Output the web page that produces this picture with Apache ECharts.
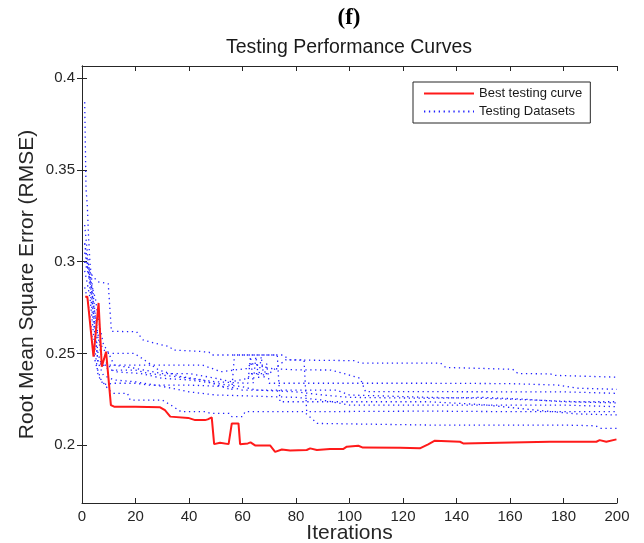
<!DOCTYPE html>
<html>
<head>
<meta charset="utf-8">
<script src="https://cdn.jsdelivr.net/npm/echarts@6/dist/echarts.min.js"></script>
<style>
html,body{margin:0;padding:0;background:#fff;}
#chart{width:644px;height:543px;}
</style>
</head>
<body>
<div id="chart"></div>
<script>
// ---- data (iteration, RMSE) ----
const xTicks = [0, 20, 40, 60, 80, 100, 120, 140, 160, 180, 200];
const yTicks = [0.2, 0.25, 0.3, 0.35, 0.4];

const bestCurve = [[1.2,0.2809],[2,0.2809],[4.3,0.2482],[6.2,0.2775],[7.4,0.2427],[9,0.2509],[9.6,0.2509],[10.8,0.2218],[12,0.2209],[20,0.2209],[29.2,0.2206],[31,0.219],[33,0.2155],[39.7,0.2148],[42.3,0.2136],[46,0.2136],[47,0.214],[48.5,0.2151],[49.4,0.2005],[51.6,0.2013],[54.8,0.2005],[55.5,0.2005],[56,0.2118],[58.5,0.2118],[59.1,0.2005],[62,0.2009],[63,0.2015],[64.7,0.1998],[70.3,0.1998],[72.2,0.1963],[74.7,0.1976],[77.8,0.197],[84,0.1973],[85.3,0.1982],[87.8,0.1973],[92.7,0.1978],[97.6,0.1978],[99,0.1991],[103.3,0.1996],[105,0.1986],[118.9,0.1985],[126.3,0.1982],[129.4,0.2004],[131.9,0.2024],[141.3,0.2018],[142.5,0.2009],[156,0.2013],[174.9,0.2018],[192.3,0.2018],[193.5,0.2027],[196,0.2018],[199.8,0.2031],[200,0.2031]];

const testCurve1 = [[1,0.300],[2,0.297],[4,0.292],[6,0.289],[9.8,0.288],[11,0.262],[20.4,0.2618],[22.8,0.2573],[27.3,0.2555],[32.8,0.2536],[34,0.2518],[43,0.2512],[47.5,0.2506],[48.5,0.2491],[75,0.2491],[77.8,0.2464],[102,0.246],[104,0.2447],[134,0.2447],[136,0.2423],[149,0.2418],[161,0.2413],[163,0.239],[175,0.2388],[177,0.238],[200,0.237]];
const testCurve2 = [[1,0.387],[1.5,0.34],[2,0.33],[2.5,0.312],[3,0.299],[4,0.285],[5,0.27],[6,0.258],[8,0.252],[10,0.250],[19.5,0.250],[22.4,0.2473],[28.7,0.2409],[37,0.2373],[45,0.2355],[56,0.2300],[57,0.2491],[73,0.2491],[74,0.2236],[100,0.2236],[130,0.2236],[150,0.222],[170,0.219],[185,0.217],[200,0.2164]];
const testCurve3 = [[1,0.32],[2,0.305],[3,0.29],[4,0.275],[5,0.262],[6,0.25],[7,0.245],[10,0.2409],[20,0.2409],[25,0.239],[35,0.2373],[40,0.2364],[50,0.2345],[62,0.2337],[63,0.2482],[64,0.2337],[65,0.2482],[66,0.2364],[67,0.2482],[68,0.2364],[69,0.2446],[70,0.2337],[90,0.2337],[130,0.2337],[160,0.2335],[178,0.2327],[185,0.231],[200,0.2304]];
const testCurve4 = [[1,0.31],[2,0.30],[3,0.295],[4,0.28],[5,0.26],[6,0.245],[8,0.2436],[30,0.2436],[45,0.2436],[52,0.240],[62,0.2418],[63,0.2446],[70,0.2418],[80,0.241],[93,0.2409],[98,0.239],[104,0.2364],[106,0.2291],[130,0.2291],[180,0.229],[200,0.2282]];
const testCurve5 = [[1,0.295],[2,0.288],[3,0.28],[4,0.265],[5,0.25],[6,0.238],[8,0.233],[12,0.2337],[20,0.2337],[25,0.2327],[40,0.2327],[55,0.2318],[60,0.230],[95,0.2300],[100,0.2273],[130,0.226],[150,0.2255],[170,0.2245],[185,0.2236],[200,0.2236]];
const testCurve6 = [[1,0.30],[2,0.295],[3,0.29],[5,0.28],[6,0.27],[7,0.262],[8,0.255],[10,0.25],[12,0.2436],[20,0.2418],[30,0.239],[40,0.2390],[50,0.2364],[56,0.2345],[62,0.2364],[63,0.239],[70,0.239],[76,0.2464],[83,0.2464],[84,0.2182],[130,0.2185],[160,0.2182],[200,0.2182]];
const testCurve7 = [[1,0.286],[2,0.28],[3,0.27],[4,0.255],[5,0.245],[7,0.236],[10,0.230],[12,0.2282],[17,0.2282],[18,0.2245],[30,0.2245],[33,0.222],[37,0.2182],[46,0.2182],[48,0.2173],[55,0.2173],[56,0.2155],[60,0.2155],[61,0.2182],[83,0.2182],[85,0.2155],[88,0.2118],[130,0.2109],[180,0.2109],[192,0.2105],[194,0.2091],[200,0.2091]];
const testCurve8 = [[1,0.31],[2,0.30],[3,0.285],[4,0.27],[5,0.258],[6,0.245],[8,0.238],[12,0.2355],[20,0.2345],[30,0.232],[40,0.229],[50,0.2273],[80,0.2260],[90,0.2245],[100,0.2218],[180,0.2218],[200,0.2209]];
const testCurve9 = [[1,0.305],[2,0.298],[3,0.29],[4,0.28],[5,0.27],[6,0.26],[7,0.25],[9,0.245],[12,0.2400],[22,0.2390],[30,0.2364],[40,0.2355],[55,0.2327],[60,0.2318],[65,0.2300],[80,0.2290],[90,0.2273],[100,0.2260],[130,0.2255],[150,0.226],[165,0.2250],[180,0.2236],[200,0.2230]];

const testCurves = [testCurve1, testCurve2, testCurve3, testCurve4, testCurve5, testCurve6, testCurve7, testCurve8, testCurve9];

// ---- chart ----
const axisColor = '#262626';
const font = 'Liberation Sans, Arial, Helvetica, sans-serif';
const chart = echarts.init(document.getElementById('chart'));

const blueSeries = testCurves.map(d => ({
  name: 'Testing Datasets',
  type: 'line',
  data: d,
  symbol: 'none',
  silent: true,
  z: 2,
  lineStyle: { color: '#1f1fff', width: 1.3, type: [1.3, 3.6] },
  itemStyle: { color: '#1f1fff' }
}));

const yCommon = {
  type: 'value', min: 0.1684, max: 0.4067,
  splitLine: { show: false },
  axisLine: { show: true, lineStyle: { color: axisColor, width: 1 } },
  axisTick: { show: true, inside: true, length: 5, customValues: yTicks, lineStyle: { color: axisColor } }
};
const xCommon = {
  type: 'value', min: 0, max: 200, interval: 20,
  splitLine: { show: false },
  axisLine: { show: true, onZero: false, lineStyle: { color: axisColor, width: 1 } },
  axisTick: { show: true, inside: true, length: 5, lineStyle: { color: axisColor } }
};

chart.setOption({
  animation: false,
  backgroundColor: '#ffffff',
  textStyle: { fontFamily: font },
  grid: { left: 82, right: 27, top: 66, bottom: 40, containLabel: false, outerBoundsMode: 'none' },
  graphic: [
    { type: 'text', x: 349, y: 18, style: { text: '(f)', textAlign: 'center', textVerticalAlign: 'middle', font: 'bold 23px "Liberation Serif", "Times New Roman", serif', fill: '#000' } },
    { type: 'text', x: 349, y: 48, style: { text: 'Testing Performance Curves', textAlign: 'center', textVerticalAlign: 'middle', font: '19.5px ' + font, fill: '#1a1a1a' } }
  ],
  legend: {
    orient: 'vertical', left: 413, top: 82,
    padding: [5, 8, 5, 10], itemGap: 5, itemWidth: 50, itemHeight: 14,
    borderColor: axisColor, borderWidth: 1, backgroundColor: '#fff',
    itemStyle: { opacity: 0 },
    textStyle: { fontSize: 13, color: '#1a1a1a', fontFamily: font },
    data: ['Best testing curve', 'Testing Datasets']
  },
  xAxis: [
    Object.assign({}, xCommon, {
      position: 'bottom',
      name: 'Iterations', nameLocation: 'middle', nameGap: 20, nameMoveOverlap: false,
      nameTextStyle: { fontSize: 21, color: axisColor, fontFamily: font },
      axisLabel: { show: true, margin: 6, fontSize: 15, color: axisColor, fontFamily: font }
    }),
    Object.assign({}, xCommon, { position: 'top', axisLabel: { show: false } })
  ],
  yAxis: [
    Object.assign({}, yCommon, {
      position: 'left',
      name: 'Root Mean Square Error (RMSE)', nameLocation: 'middle', nameGap: 44, nameMoveOverlap: false,
      nameTextStyle: { fontSize: 21, color: axisColor, fontFamily: font },
      axisLabel: { show: true, margin: 7, fontSize: 15, color: axisColor, fontFamily: font, customValues: yTicks,
        formatter: v => String(Math.round(v * 100) / 100) }
    }),
    Object.assign({}, yCommon, { position: 'right', axisLabel: { show: false } })
  ],
  series: [
    {
      name: 'Best testing curve', type: 'line', data: bestCurve, symbol: 'none', silent: true, z: 5,
      lineStyle: { color: '#ff1a1a', width: 2 }, itemStyle: { color: '#ff1a1a' }
    }
  ].concat(blueSeries)
});
</script>
</body>
</html>
